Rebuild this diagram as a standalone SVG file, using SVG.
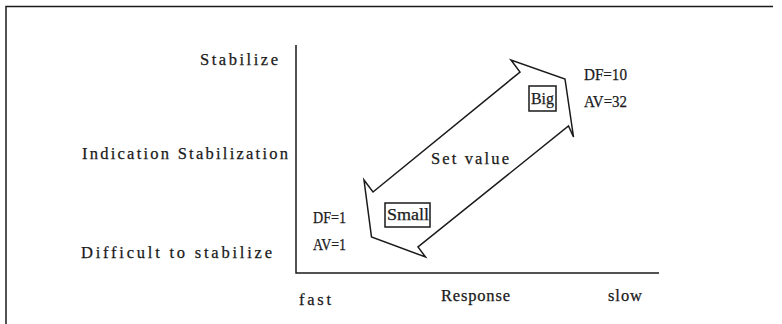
<svg xmlns="http://www.w3.org/2000/svg" width="782" height="324" viewBox="0 0 782 324">
<style>
text{font-family:"Liberation Serif","DejaVu Serif",serif;font-size:16.5px;fill:#1a1a1a;stroke:#1a1a1a;stroke-width:0.25}
.ln{fill:none;stroke:#1a1a1a;stroke-width:1.5}
</style>
<rect x="0" y="0" width="782" height="324" fill="#fff"/>
<g id="frame"><path class="ln" d="M6,324 V6.5 H773"/></g>
<g id="axes"><path class="ln" d="M296,45 V273 H659" stroke-width="1.8"/></g>
<g id="y-labels">
<text x="200" y="65" textLength="78" lengthAdjust="spacing">Stabilize</text>
<text x="82" y="159" textLength="206" lengthAdjust="spacing">Indication Stabilization</text>
<text x="81" y="258" textLength="191" lengthAdjust="spacing">Difficult to stabilize</text>
</g>
<g id="x-labels">
<text x="299" y="305" textLength="32" lengthAdjust="spacing">fast</text>
<text x="441" y="301" textLength="69" lengthAdjust="spacing">Response</text>
<text x="608" y="301" textLength="34" lengthAdjust="spacing">slow</text>
</g>
<g id="connectors">
<path id="arrow" class="ln" d="M511,60 L520,72 L373,192 L364,180 L371.5,237 L425.5,257 L418,247 L568.5,126 L573.5,137 L565,79 Z"/>
</g>
<g id="set-value"><text x="431" y="164" textLength="78" lengthAdjust="spacing">Set value</text></g>
<g id="big">
<rect class="ln" x="529" y="86" width="27" height="25"/>
<text x="531" y="104" textLength="23" lengthAdjust="spacingAndGlyphs">Big</text>
</g>
<g id="small">
<rect class="ln" x="385" y="203" width="45" height="24"/>
<text x="387" y="220" textLength="42" lengthAdjust="spacingAndGlyphs">Small</text>
</g>
<g id="big-params">
<text x="584" y="80" textLength="43" lengthAdjust="spacingAndGlyphs">DF=10</text>
<text x="584" y="107" textLength="43" lengthAdjust="spacingAndGlyphs">AV=32</text>
</g>
<g id="small-params">
<text x="313" y="223" textLength="33" lengthAdjust="spacingAndGlyphs">DF=1</text>
<text x="313" y="250" textLength="33" lengthAdjust="spacingAndGlyphs">AV=1</text>
</g>
</svg>
